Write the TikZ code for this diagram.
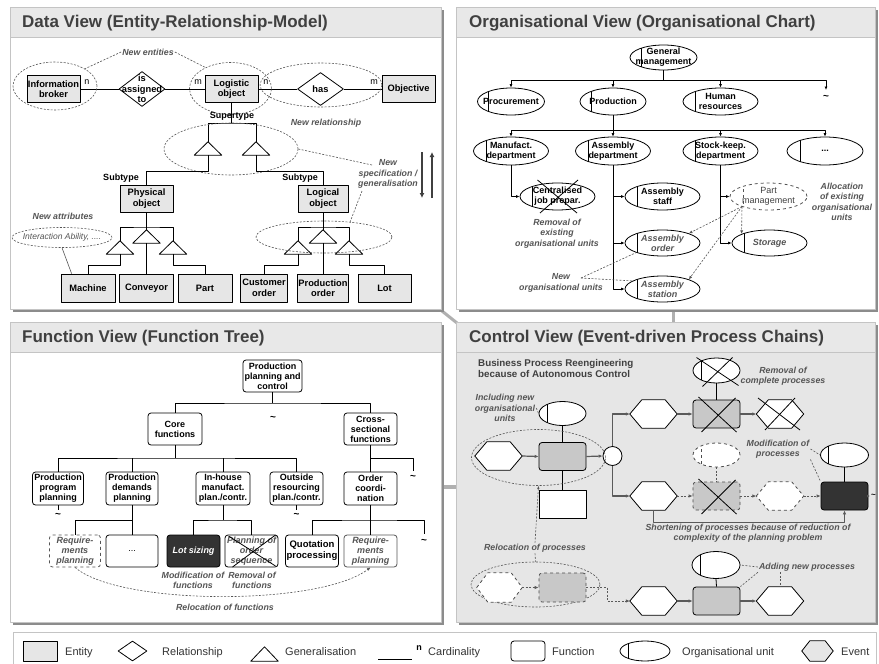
\documentclass[tikz,border=0pt]{standalone}
\usepackage{fontspec}
\setmainfont{Liberation Sans}
\usetikzlibrary{shapes.geometric,arrows.meta,calc}
\definecolor{shadowc}{HTML}{8C8C8C}
\definecolor{framec}{HTML}{C4C4C4}
\definecolor{titlebg}{HTML}{E8E8E8}
\definecolor{titletx}{HTML}{404040}
\definecolor{entfill}{HTML}{E6E6E6}
\definecolor{notec}{HTML}{555555}
\definecolor{ctrlbg}{HTML}{E6E6E6}
\definecolor{fnfill}{HTML}{C8C8C8}
\definecolor{darkfn}{HTML}{333333}
\definecolor{linec}{HTML}{5A5A5A}
\definecolor{joinc}{HTML}{B0B0B0}
\newcommand\fsz[2]{\fontsize{#1}{#2}\selectfont}
\tikzset{
  ent/.style={draw, fill=entfill, line width=0.8pt, inner sep=0pt, align=center, font=\fsz{9.3}{10.5}\bfseries, minimum height=27pt},
  fn/.style={draw, fill=white, rounded corners=3pt, line width=0.8pt, inner sep=0pt, align=center, font=\fsz{9}{10}\bfseries, minimum height=33pt},
  fnb/.style={draw, fill=fnfill, rounded corners=3pt, line width=0.8pt, minimum width=47pt, minimum height=28pt, inner sep=0pt},
  note/.style={font=\fsz{8.8}{10.5}\bfseries\itshape, text=notec, align=center, inner sep=1pt},
  ln/.style={draw=black, line width=0.8pt},
  dashln/.style={draw=notec, line width=0.6pt, dash pattern=on 2pt off 1.5pt},
  dashell/.style={ellipse, dashln, inner sep=0pt},
  arr/.style={ln, -{Latex[length=3.5pt,width=3pt]}},
  dasharr/.style={dashln, -{Latex[length=3.5pt,width=3pt]}},
  cl/.style={draw=linec, line width=1.2pt},
  carr/.style={cl, -{Latex[length=4pt,width=3.5pt]}},
  cdarr/.style={draw=linec, line width=0.9pt, dash pattern=on 2pt off 1.5pt, -{Latex[length=4pt,width=3.5pt]}},
  oul/.style={},
  oushape/.style={ellipse, draw, fill=white, inner sep=0pt, line width=0.8pt,
    path picture={\draw[line width=0.8pt, oul] ($(path picture bounding box.north west)!0.17!(path picture bounding box.north east)$) -- ($(path picture bounding box.south west)!0.17!(path picture bounding box.south east)$);}},
  outext/.style={font=\fsz{9}{10}\bfseries, align=center, inner sep=0pt},
  card/.style={font=\fsz{9}{10}, inner sep=0pt},
  sub/.style={font=\fsz{9}{10}\bfseries, inner sep=0pt},
  tilde/.style={font=\fsz{10}{12}\bfseries, inner sep=0pt},
  ptitle/.style={font=\fsz{17}{20}\bfseries, text=titletx, anchor=west, inner sep=0pt},
  leg/.style={font=\fsz{11}{13}, text=black!80, anchor=base west, inner sep=0pt},
  hexbox/.style={minimum width=47pt, minimum height=28pt, inner sep=0pt},
  hexdraw/.style={draw=black, fill=white, line width=0.8pt},
  itl/.style={font=\fsz{9}{10}\bfseries\itshape, text=notec}
}
\newcommand\orgu[7]{\node[oushape,minimum width=#4,minimum height=#5,#1] (#2) at (#3) {};\node[outext,#6] (#2-t) at (#2) {#7};}
\newcommand\hexa[5]{\node[hexbox,#4] (#2) at (#3) {};\draw[hexdraw,#1] (#2.west) -- ([xshift=#5]#2.north west) -- ([xshift=-#5]#2.north east) -- (#2.east) -- ([xshift=-#5]#2.south east) -- ([xshift=#5]#2.south west) -- cycle;}
\newcommand\tri[4]{\node[minimum width=#3, minimum height=#4, inner sep=0pt] (#1) at (#2) {};\draw[ln, fill=white] (#1.south west) -- (#1.north) -- (#1.south east) -- cycle;}
\begin{document}
\begin{tikzpicture}[x=1pt, y=-1pt, line join=round]
\useasboundingbox (0,0) rectangle (879,664);
\fill[white] (0,0) rectangle (879,664);
% ---------- panels ----------
\draw[joinc, line width=3pt] (442,311) -- (457,323);
\draw[joinc, line width=3pt] (673.5,311) -- (673.5,323);
\draw[joinc, line width=4pt] (443,487) -- (457,487);
\fill[shadowc] (13,10) rectangle (444,312);
\draw[framec, fill=white] (10,7) rectangle (441,309);
\draw[framec, fill=titlebg] (10,7) rectangle (441,37);
\node[ptitle] (t-dv) at (22,23.5) {Data View (Entity-Relationship-Model)};
\fill[shadowc] (459,10) rectangle (878,312);
\draw[framec, fill=white] (456,7) rectangle (875,309);
\draw[framec, fill=titlebg] (456,7) rectangle (875,37);
\node[ptitle] (t-ov) at (469,23.5) {Organisational View (Organisational Chart)};
\fill[shadowc] (13,325) rectangle (444,625);
\draw[framec, fill=white] (10,322) rectangle (441,622);
\draw[framec, fill=titlebg] (10,322) rectangle (441,352);
\node[ptitle] (t-fv) at (22,338) {Function View (Function Tree)};
\fill[shadowc] (459,325) rectangle (878,625);
\draw[framec, fill=ctrlbg] (456,322) rectangle (875,622);
\draw[framec, fill=titlebg] (456,322) rectangle (875,352);
\node[ptitle] (t-cv) at (469,338) {Control View (Event-driven Process Chains)};
\draw[framec, fill=white] (13,632) rectangle (876,668);
% ---------- Data view ----------
\node[ent, minimum width=53pt] (ib) at (53.5,89) {Information\\broker};
\node[ent, minimum width=53pt] (lo) at (231.5,89) {Logistic\\object};
\node[ent, minimum width=53pt] (obj) at (408.5,89) {Objective};
\node[diamond, draw, fill=white, line width=0.8pt, minimum width=46pt, minimum height=35pt, inner sep=0pt] (d1) at (142,89) {};
\node[font=\fsz{9.3}{10.5}\bfseries, align=center, inner sep=0pt] (d1-t) at (d1) {is\\assigned\\to};
\node[diamond, draw, fill=white, line width=0.8pt, minimum width=46pt, minimum height=33pt, inner sep=0pt] (d2) at (320.5,89) {};
\node[font=\fsz{9.3}{10.5}\bfseries, inner sep=0pt] (d2-t) at (d2) {has};
\draw[ln] (ib.east) -- (d1.west);
\draw[ln] (d1.east) -- (lo.west);
\draw[ln] (lo.east) -- (d2.west);
\draw[ln] (d2.east) -- (obj.west);
\node[card] (c1) at (87,82) {n};
\node[card] (c2) at (198,82) {m};
\node[card] (c3) at (266,82) {n};
\node[card] (c4) at (374,82) {m};
\node[dashell, minimum width=84pt, minimum height=48pt] (e1) at (55,86) {};
\node[dashell, minimum width=82pt, minimum height=52pt] (e2) at (230.5,88.5) {};
\node[dashell, minimum width=122pt, minimum height=44pt] (e3) at (321,85) {};
\node[note] (nent) at (148,52) {New entities};
\draw[dashln] (nent.west) -- (e1.30);
\draw[dashln] (nent.east) -- (e2.140);
\node[note] (nrel) at (326,123) {New relationship};
% supertype
\node[sub] (supt) at (232,116.5) {Supertype};
\coordinate (lo-j) at (231.5,123);
\tri{t1}{208,148.5}{27pt}{13pt}
\tri{t2}{256,148.5}{27pt}{13pt}
\draw[ln] (lo.south) -- (lo-j);
\draw[ln] (t1.north) |- (lo-j) -| (t2.north);
\node[dashell, minimum width=134pt, minimum height=52pt] (e4) at (231,149) {};
\node[sub] (sub1) at (121,178) {Subtype};
\node[sub] (sub2) at (300,178) {Subtype};
\node[ent, minimum width=53pt] (po) at (146.5,198.5) {Physical\\object};
\node[ent, minimum width=50pt] (lgo) at (323,198.5) {Logical\\object};
\draw[ln] (t1.south) -- ++(0,16) -| (po.north);
\draw[ln] (t2.south) -- ++(0,16) -| (lgo.north);
% physical subtree
\coordinate (po-j) at (146.5,227);
\tri{t3}{120,247.5}{27pt}{13pt}
\tri{t4}{146.5,236.5}{27pt}{13pt}
\tri{t5}{173,247.5}{27pt}{13pt}
\draw[ln] (po.south) -- (t4.north);
\draw[ln] (t3.north) |- (po-j) -| (t5.north);
\node[ent, minimum width=54pt, minimum height=28pt] (ma) at (88,288) {Machine};
\node[ent, minimum width=54pt, minimum height=28pt] (cv) at (146.5,288) {Conveyor};
\node[ent, minimum width=54pt, minimum height=28pt] (pa) at (205,288) {Part};
\draw[ln] (t3.south) -- ++(0,11) -| (ma.north);
\draw[ln] (t4.south) -- (cv.north);
\draw[ln] (t5.south) -- ++(0,11) -| (pa.north);
% logical subtree
\coordinate (lg-j) at (323,227);
\tri{t6}{298,247.5}{27pt}{13pt}
\tri{t7}{323,236.5}{27pt}{13pt}
\tri{t8}{349,247.5}{27pt}{13pt}
\draw[ln] (lgo.south) -- (t7.north);
\draw[ln] (t6.north) |- (lg-j) -| (t8.north);
\node[ent, minimum width=47pt, minimum height=28pt] (co) at (264,288) {Customer\\order};
\node[ent, minimum width=51pt, minimum height=28pt] (pro) at (323,288) {Production\\order};
\node[ent, minimum width=53pt, minimum height=28pt] (lot) at (384.5,288) {Lot};
\draw[ln] (t6.south) -- ++(0,11) -| (co.north);
\draw[ln] (t7.south) -- (pro.north);
\draw[ln] (t8.south) -- ++(0,11) -| (lot.north);
\node[dashell, minimum width=136pt, minimum height=32pt] (e5) at (324,237) {};
% attributes
\node[note] (natt) at (63,216) {New attributes};
\node[dashell, minimum width=100pt, minimum height=20pt] (e6) at (62,237.5) {};
\node[font=\fsz{8.5}{10}\itshape, text=notec, inner sep=0pt] (e6-t) at (e6) {Interaction Ability, ....};
\draw[draw=notec, line width=0.6pt] (e6.south) -- ([xshift=11pt]ma.north west);
% specification
\node[note] (nspec) at (388,174) {New\\specification /\\generalisation};
\coordinate (nspec-a) at (372,165);
\coordinate (nspec-b) at (362,191);
\draw[dashln] (e4.east) -- (nspec-a);
\draw[dashln] (nspec-b) -- (e5.30);
\coordinate (da1) at (422,152);
\coordinate (da2) at (422,198);
\coordinate (ua1) at (432,198);
\coordinate (ua2) at (432,152);
\draw[draw=black!75, line width=2pt, -{Latex[length=5pt,width=5pt]}] (da1) -- (da2);
\draw[draw=black!75, line width=2pt, -{Latex[length=5pt,width=5pt]}] (ua1) -- (ua2);
% ---------- Organisational view ----------
\orgu{}{gm}{663.5,57.5}{67pt}{25pt}{}{General\\management}
\orgu{}{pc}{511,101.5}{67pt}{27pt}{}{Procurement}
\orgu{}{pd}{613,101.5}{66pt}{27pt}{}{Production}
\orgu{}{hr}{720.5,101.5}{75pt}{27pt}{}{Human\\resources}
\coordinate (tl1) at (826,90);
\node[tilde] (til1) at (826,97) {\textasciitilde};
\coordinate (gm-j) at (663.5,80);
\draw[ln] (gm.south) -- (gm-j);
\draw[arr] (gm-j) -| (pc.north);
\draw[arr] (gm-j) -| (pd.north);
\draw[arr] (gm-j) -| (hr.north);
\draw[arr] (gm-j) -| (tl1);
\orgu{}{md}{511,151}{75pt}{28pt}{}{Manufact.\\department}
\orgu{}{ad}{613,151}{75pt}{28pt}{}{Assembly\\department}
\orgu{}{sd}{720.5,151}{75pt}{28pt}{}{Stock-keep.\\department}
\orgu{}{od}{825,151}{76pt}{28pt}{}{...}
\coordinate (pd-j) at (613,130);
\draw[ln] (pd.south) -- (pd-j);
\draw[arr] (pd-j) -| (md.north);
\draw[arr] (pd-j) -| (ad.north);
\draw[arr] (pd-j) -| (sd.north);
\draw[arr] (pd-j) -| (od.north);
\orgu{}{cj}{557.5,196.5}{75pt}{27pt}{}{Centralised\\job prepar.}
\draw[ln] ($(cj)+(-20,-16.5)$) -- ($(cj)+(19.5,16.5)$);
\draw[ln] ($(cj)+(20.5,-16.5)$) -- ($(cj)+(-17.5,16.5)$);
\draw[arr] (md.south) |- (cj.west);
\orgu{}{as}{662.5,196.5}{75pt}{27pt}{}{Assembly\\staff}
\orgu{}{ao}{662.5,243}{75pt}{26pt}{itl}{Assembly\\order}
\orgu{}{ast}{662.5,289}{75pt}{26pt}{itl}{Assembly\\station}
\draw[arr] (ad.south) |- (as.west);
\draw[arr] (ad.south) |- (ao.west);
\draw[arr] (ad.south) |- (ast.west);
\orgu{dashed, draw=notec, oul/.style={dashed}}{pm}{768.5,196.5}{77pt}{27pt}{font=\fsz{9}{10}, text=black!75}{Part\\management}
\orgu{}{st}{769.5,243}{75pt}{26pt}{itl}{Storage}
\draw[arr] (sd.south) |- (pm.west);
\draw[arr] (sd.south) |- (st.west);
\node[note] (nalloc) at (842,202) {Allocation\\of existing\\organisational\\units};
\node[note] (nrem) at (557,233.5) {Removal of\\existing\\organisational units};
\node[note] (nnew) at (561,283) {New\\organisational units};
\coordinate (pm-o) at (742,206.5);
\draw[dasharr] (pm-o) -- (ao.20);
\draw[dasharr] (pm-o) -- (st.162);
\draw[dasharr] (pm-o) -- (ast.20);
\coordinate (nnew-a) at (581,278);
\draw[dashln] (nnew-a) -- (ao.200);
\draw[dashln] (nnew-a) -- (ast.165);
% ---------- Function view ----------
\node[fn, minimum width=59pt, minimum height=32pt] (ppc) at (272.5,376) {Production\\planning and\\control};
\node[fn, minimum width=54pt, minimum height=32pt] (cf) at (175,429) {Core\\functions};
\node[fn, minimum width=53pt, minimum height=32pt] (cs) at (370.5,429) {Cross-\\sectional\\functions};
\coordinate (ppc-j) at (272.5,403);
\draw[ln] (ppc.south) -- (ppc-j);
\draw[ln] (cf.north) |- (ppc-j) -| (cs.north);
\node[tilde] (til2) at (273,418) {\textasciitilde};
\node[fn, minimum width=51pt] (pp) at (58,488.5) {Production\\program\\planning};
\node[fn, minimum width=52pt] (pdp) at (132,488.5) {Production\\demands\\planning};
\node[fn, minimum width=54pt] (ih) at (223,488.5) {In-house\\manufact.\\plan./contr.};
\node[fn, minimum width=53pt] (osr) at (296.5,488.5) {Outside\\resourcing\\plan./contr.};
\node[fn, minimum width=53pt] (oc) at (370.5,488.5) {Order\\coordi-\\nation};
\coordinate (cf-j) at (175,458);
\draw[ln] (cf.south) -- (cf-j);
\draw[ln] (pp.north) |- (cf-j) -| (osr.north);
\draw[ln] (pdp.north) -- (pdp.north |- cf-j);
\draw[ln] (ih.north) -- (ih.north |- cf-j);
\coordinate (cs-t) at (413,471);
\draw[ln] (cs.south) -- (oc.north);
\draw[ln] (cs.south |- cf-j) -| (cs-t);
\node[tilde] (til3) at (413,477) {\textasciitilde};
\coordinate (pp-t) at (58,510);
\draw[ln] (pp.south) -- (pp-t);
\node[tilde] (til4) at (58,515) {\textasciitilde};
\coordinate (osr-t) at (296.5,510);
\draw[ln] (osr.south) -- (osr-t);
\node[tilde] (til5) at (296.5,515) {\textasciitilde};
\node[fn, minimum width=51pt, minimum height=32pt, dashed, draw=notec, text=notec, font=\fsz{9}{10}\bfseries\itshape] (rp1) at (75,551) {Require-\\ments\\planning};
\node[fn, minimum width=52pt, minimum height=32pt, font=\fsz{9}{10}] (dd) at (132,551) {...};
\node[fn, minimum width=53pt, minimum height=32pt, fill=darkfn, text=white, font=\fsz{9}{10}\bfseries\itshape] (ls) at (193.5,551) {Lot sizing};
\node[fn, minimum width=53pt, minimum height=32pt, text=notec, font=\fsz{9}{10}\bfseries\itshape] (po2) at (251.5,551) {Planning of\\order\\sequence};
\node[fn, minimum width=53pt, minimum height=32pt, font=\fsz{9.5}{11}\bfseries] (qp) at (312,551) {Quotation\\processing};
\node[fn, minimum width=53pt, minimum height=32pt, draw=notec, text=notec, font=\fsz{9}{10}\bfseries\itshape] (rp2) at (370.5,551) {Require-\\ments\\planning};
\coordinate (pdp-j) at (132,520);
\draw[ln] (pdp.south) -- (dd.north);
\draw[ln] (pdp-j) -| (rp1.north);
\coordinate (ih-j) at (223,520);
\draw[ln] (ih.south) -- (ih-j);
\draw[ln] (ls.north) |- (ih-j) -| (po2.north);
\coordinate (oc-j) at (370.5,520);
\draw[ln] (oc.south) -- (rp2.north);
\coordinate (oc-t) at (424,534);
\draw[ln] (qp.north) |- (oc-j) -| (oc-t);
\node[tilde] (til6) at (424,541) {\textasciitilde};
\draw[ln] ($(po2)+(-23,-15)$) -- ($(po2)+(24,15)$);
\draw[ln] ($(po2)+(24,-16)$) -- ($(po2)+(-19,16)$);
\node[note] (nmodf) at (193,580.5) {Modification of\\functions};
\node[note] (nremf) at (252,580.5) {Removal of\\functions};
\node[note] (nrelf) at (225,607) {Relocation of functions};
\draw[dasharr] (rp1.south) .. controls (120,606) and (320,606) .. (rp2.south);
% ---------- Control view ----------
\node[font=\fsz{9.8}{11.2}\bfseries, text=titletx, align=left, anchor=west, inner sep=0pt] (bpr) at (478,368.5) {Business Process Reengineering\\because of Autonomous Control};
\orgu{}{ou1}{716.5,370.5}{47pt}{25pt}{}{}
\draw[ln] ($(ou1)+(-20,-13)$) -- ($(ou1)+(22,15)$);
\draw[ln] ($(ou1)+(16,-13)$) -- ($(ou1)+(-14,16)$);
\node[fnb] (fn1) at (716.5,414) {};
\draw[ln] ($(fn1)+(-18,-17)$) -- ($(fn1)+(20,18)$);
\draw[ln] ($(fn1)+(19,-16)$) -- ($(fn1)+(-15,18)$);
\hexa{}{ev2}{653.5,414}{}{12pt}
\hexa{}{ev3}{780,414}{}{12pt}
\draw[ln] ($(ev3)+(-22,-16)$) -- ($(ev3)+(20,16)$);
\draw[ln] ($(ev3)+(15,-16)$) -- ($(ev3)+(-15,16)$);
\draw[ln] (ou1.south) -- (fn1.north);
\draw[carr] (ev2.east) -- (fn1.west);
\draw[carr] (fn1.east) -- (ev3.west);
\node[note] (nremp) at (783,376) {Removal of\\complete processes};
\node[note] (ninc) at (505,408) {Including new\\organisational\\units};
\orgu{}{ou2}{562.5,413.5}{47pt}{24pt}{}{}
\draw[dashln] (ninc.east) -- (ou2.west);
\node[fnb] (fn0) at (562.5,456.5) {};
\hexa{}{ev1}{498.5,456}{}{12pt}
\node[circle, draw, fill=white, line width=0.8pt, minimum size=19pt, inner sep=0pt] (circ) at (612.5,456) {};
\draw[carr] (ev1.east) -- (fn0.west);
\draw[carr] (fn0.east) -- (circ.west);
\draw[ln] (ou2.south) -- (fn0.north);
\node[draw, fill=white, line width=0.8pt, minimum width=47pt, minimum height=28pt, inner sep=0pt] (rect0) at (562.5,504) {};
\draw[ln] (fn0.south) -- (rect0.north);
\node[dashell, minimum width=134pt, minimum height=56pt] (ell1) at (538.5,457.5) {};
\draw[carr] (circ.north) |- (ev2.west);
\hexa{}{ev4}{653.5,496}{}{12pt}
\draw[carr] (circ.south) |- (ev4.west);
\node[fnb, dashed, draw=black!70] (fn2) at (716.5,496) {};
\draw[ln] ($(fn2)+(-18,-17)$) -- ($(fn2)+(20,18)$);
\draw[ln] ($(fn2)+(19,-16)$) -- ($(fn2)+(-15,18)$);
\orgu{dashed, draw=black!70, oul/.style={dashed}}{ou3}{716.5,455}{47pt}{24pt}{}{}
\draw[dashln] (ou3.south) -- (fn2.north);
\hexa{dashed, draw=black!70}{ev5}{780,496}{}{12pt}
\node[fnb, fill=darkfn] (fn3) at (844.5,496) {};
\orgu{}{ou4}{844.5,455}{48pt}{24pt}{}{}
\draw[ln] (ou4.south) -- (fn3.north);
\draw[cdarr] (ev4.east) -- (fn2.west);
\draw[cdarr] (fn2.east) -- (ev5.west);
\draw[cdarr] (ev5.east) -- (fn3.west);
\coordinate (fn3-o) at (870,496);
\draw[draw=linec, line width=0.8pt, -{Latex[length=3pt,width=3pt]}] (fn3.east) -- (fn3-o);
\node[tilde, font=\fsz{8}{10}\bfseries] (til7) at (873.5,496) {\textasciitilde};
\draw[draw=linec, line width=1pt, -{Latex[length=4pt,width=3.5pt]}] (ev4.south) -- ++(0,12) -| (fn3.south);
\node[note] (nmodp) at (778,449) {Modification of\\processes};
\draw[dashln] (nmodp.east) -- (ou4.west);
\draw[dashln] (nmodp.south east) -- (fn3.north west);
\node[note] (nshort) at (748,533) {Shortening of processes because of reduction of\\complexity of the planning problem};
\node[note] (nrelp) at (535,548) {Relocation of processes};
\draw[dashln, {Latex[length=3pt,width=2.5pt]}-] (ell1.south) -- (nrelp.north);
\node[dashell, minimum width=129pt, minimum height=45pt] (ell2) at (535.5,584.5) {};
\draw[dashln] (nrelp.south) -- (ell2.north);
\hexa{dashed, draw=black!70}{ev6}{499.5,587.5}{minimum width=45pt, minimum height=29pt}{11pt}
\node[fnb, dashed, draw=black!70, minimum height=29pt] (fn4) at (562.5,587.5) {};
\draw[cdarr] (ev6.east) -- (fn4.west);
\hexa{}{ev7}{653.5,601}{}{12pt}
\draw[cdarr] (fn4.east) -- ++(21,0) |- (ev7.west);
\node[fnb] (fn5) at (716.5,601) {};
\hexa{}{ev8}{780,601}{}{12pt}
\draw[carr] (ev7.east) -- (fn5.west);
\draw[carr] (fn5.east) -- (ev8.west);
\orgu{}{ou5}{716,565}{48pt}{27pt}{}{}
\draw[ln] (ou5.south) -- (fn5.north);
\node[note] (nadd) at (807,567) {Adding new processes};
\draw[dashln] (nadd.west) -- (ou5.east);
\draw[dashln] (nadd.south west) -- (fn5.north east);
\draw[dashln] (nadd.south -| ev8.north) -- (ev8.north);
% ---------- Legend ----------
\node[draw, fill=entfill, line width=0.8pt, minimum width=34pt, minimum height=20pt, inner sep=0pt] (lg-ent) at (40,651) {};
\node[leg] (lg-ent-t) at (65,655) {Entity};
\node[diamond, draw, fill=white, line width=0.8pt, minimum width=29pt, minimum height=20pt, inner sep=0pt] (lg-rel) at (132.5,651) {};
\node[leg] (lg-rel-t) at (162,655) {Relationship};
\tri{lg-gen}{264.5,654}{27pt}{14pt}
\node[leg] (lg-gen-t) at (285,655) {Generalisation};
\coordinate (lg-c1) at (378,659);
\coordinate (lg-c2) at (412,659);
\draw[ln] (lg-c1) -- (lg-c2);
\node[card, font=\fsz{9}{10}\bfseries] (lg-n) at (419,648) {n};
\node[leg] (lg-card-t) at (428,655) {Cardinality};
\node[draw, fill=white, rounded corners=3pt, line width=0.8pt, minimum width=34pt, minimum height=20pt, inner sep=0pt] (lg-fn) at (528,651) {};
\node[leg] (lg-fn-t) at (552,655) {Function};
\orgu{}{lg-ou}{645,651}{50pt}{20pt}{}{}
\node[leg] (lg-ou-tt) at (682,655) {Organisational unit};
\hexa{fill=entfill}{lg-ev}{817.5,651}{minimum width=31pt, minimum height=20pt}{8pt}
\node[leg] (lg-ev-t) at (841,655) {Event};
\end{tikzpicture}
\end{document}
